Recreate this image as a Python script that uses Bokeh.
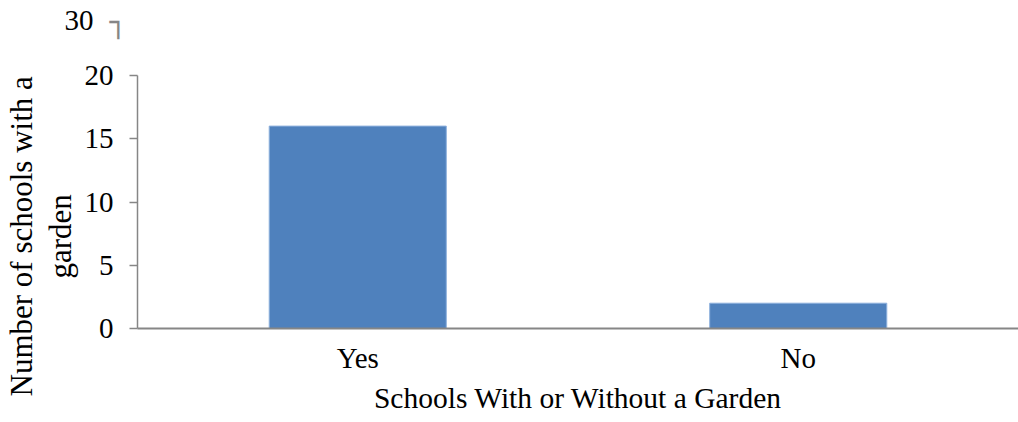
from bokeh.plotting import figure
from bokeh.models import Title, FixedTicker
from bokeh.embed import file_html
from bokeh.resources import INLINE

categories = ["Yes", "No"]
counts = [16, 2]
y_ticks = [0, 5, 10, 15, 20]
y_label_lines = ["Number of schools with a", "garden"]
x_label = "Schools With or Without a Garden"
stray_tick_label = "30"
stray_tick_mark = "\u2510\n\u00a0\n\u00a0"

FONT = "Liberation Serif"
AXIS_COLOR = "#868686"

p = figure(x_range=categories, y_range=(0, 20),
           frame_width=881, frame_height=253,
           output_backend="svg", toolbar_location=None,
           min_border_left=137, min_border_top=75, min_border_bottom=0,
           min_border_right=0)
p.vbar(x=categories, top=counts, width=0.402, fill_color="#4F81BD",
       line_color="#8DB0DD", line_width=1)

p.outline_line_color = None
p.xgrid.grid_line_color = None
p.ygrid.grid_line_color = None

p.yaxis.ticker = FixedTicker(ticks=y_ticks)
for ax in (p.xaxis[0], p.yaxis[0]):
    ax.axis_line_color = AXIS_COLOR
    ax.axis_line_width = 1.5
    ax.major_tick_line_color = AXIS_COLOR
    ax.major_tick_line_width = 1.5
    ax.major_tick_in = 0
    ax.major_tick_out = 8
    ax.minor_tick_line_color = None
    ax.major_label_text_font = FONT
    ax.major_label_text_font_size = "29px"
    ax.major_label_text_color = "black"
    ax.axis_label_text_font = FONT
    ax.axis_label_text_font_style = "normal"
    ax.axis_label_text_color = "black"

p.xaxis.major_tick_line_color = None
p.xaxis.major_tick_out = 0
p.xaxis.axis_line_width = 2
p.xaxis.major_label_standoff = 13
p.xaxis.axis_label = x_label
p.xaxis.axis_label_text_font_size = "29.5px"
p.xaxis.axis_label_standoff = 5

p.yaxis.major_label_standoff = 16

# value-axis title, two lines placed like the reference
p.add_layout(Title(text=y_label_lines[1], text_font=FONT,
                   text_font_size="31px", text_font_style="normal",
                   text_color="black", align="left", offset=50,
                   vertical_align="bottom", standoff=8), "left")
p.add_layout(Title(text=y_label_lines[0], text_font=FONT,
                   text_font_size="31px", text_font_style="normal",
                   text_color="black", align="left", offset=-68,
                   vertical_align="bottom", standoff=-5), "left")

# stray "30" tick piece at the top left of the value axis
p.title.text = stray_tick_label
p.title.text_font = FONT
p.title.text_font_size = "29px"
p.title.text_font_style = "normal"
p.title.text_color = "black"
p.title.align = "left"
p.title.offset = -73
p.title.standoff = 16
p.title.vertical_align = "bottom"

p.add_layout(Title(text=stray_tick_mark, text_font="DejaVu Sans",
                   text_font_size="29px", text_font_style="normal",
                   text_color=AXIS_COLOR, align="left", offset=-28,
                   standoff=-66, vertical_align="top"), "above")

open("out.html", "w").write(file_html(p, INLINE))
